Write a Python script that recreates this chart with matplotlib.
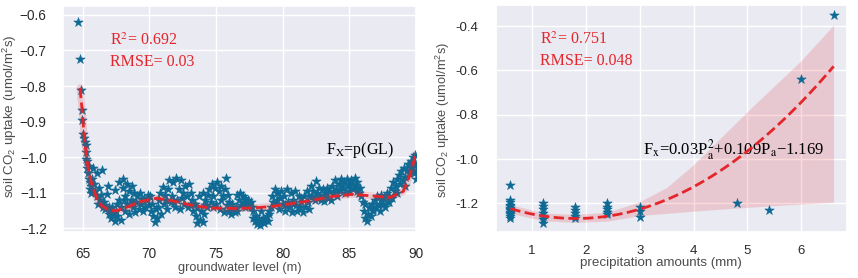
import matplotlib
matplotlib.use('Agg')
import matplotlib.pyplot as plt
import numpy as np
import seaborn as sns

# ---------------- data: left panel (groundwater level) ----------------
gl_level = [
    64.68, 64.80, 64.90, 64.93, 64.98, 65.05, 65.10, 65.15, 65.25, 65.22,
    65.25, 65.35, 65.30, 65.45, 65.40, 65.50, 65.55, 65.60, 65.52, 65.65,
    65.70, 65.80, 65.85, 65.95, 66.05, 66.10, 66.20, 66.30, 66.43, 66.15,
    66.35, 66.50, 66.60, 66.70, 66.80, 66.93, 66.95, 67.05, 67.10, 67.20,
    67.30, 67.43, 67.40, 67.50, 67.60, 67.70, 67.75, 67.85, 67.90, 68.00,
    68.05, 68.15, 68.20, 68.30, 68.35, 68.45, 68.50, 68.60, 68.70, 68.75,
    68.85, 68.90, 69.00, 69.10, 69.20, 69.30, 69.40, 69.50, 69.60, 69.70,
    69.80, 69.90, 70.00, 70.10, 70.20, 70.30, 70.40, 70.50, 70.60, 70.70,
    70.80, 70.90, 71.00, 71.10, 71.20, 71.30, 71.40, 71.50, 71.60, 71.70,
    71.80, 71.90, 72.00, 72.10, 72.20, 72.30, 72.40, 72.50, 72.60, 72.70,
    72.80, 72.90, 73.00, 73.10, 73.20, 73.30, 73.40, 73.50, 73.60, 73.70,
    73.80, 73.90, 74.00, 74.05, 74.10, 74.20, 74.30, 74.40, 74.50, 74.60,
    74.70, 74.80, 74.90, 75.00, 75.10, 75.20, 75.30, 75.40, 75.50, 75.60,
    75.70, 75.75, 75.80, 75.90, 76.00, 76.10, 76.20, 76.30, 76.40, 76.50,
    76.60, 76.70, 76.80, 76.90, 77.00, 77.10, 77.20, 77.30, 77.40, 77.50,
    77.60, 77.70, 77.80, 77.90, 78.00, 78.10, 78.20, 78.30, 78.40, 78.50,
    78.60, 78.70, 78.80, 78.90, 79.00, 79.10, 79.20, 79.30, 79.40, 79.50,
    79.60, 79.70, 79.80, 79.90, 80.00, 80.10, 80.20, 80.30, 80.40, 80.50,
    80.60, 80.70, 80.80, 80.90, 81.00, 81.10, 81.20, 81.30, 81.40, 81.50,
    81.60, 81.70, 81.80, 81.90, 82.00, 82.10, 82.20, 82.30, 82.40, 82.50,
    82.60, 82.70, 82.80, 82.90, 83.00, 83.10, 83.20, 83.30, 83.40, 83.50,
    83.60, 83.70, 83.80, 83.90, 84.00, 84.10, 84.20, 84.30, 84.40, 84.50,
    84.60, 84.70, 84.80, 84.90, 85.00, 85.10, 85.20, 85.30, 85.40, 85.50,
    85.60, 85.70, 85.80, 85.90, 86.00, 86.10, 86.20, 86.30, 86.40, 86.50,
    86.60, 86.70, 86.80, 86.90, 87.00, 87.10, 87.20, 87.30, 87.40, 87.50,
    87.60, 87.70, 87.80, 87.90, 88.00, 88.10, 88.20, 88.30, 88.40, 88.50,
    88.60, 88.70, 88.80, 88.90, 89.00, 89.10, 89.20, 89.30, 89.40, 89.50,
    89.60, 89.70, 89.80, 89.90, 90.00, 90.00, 89.95, 89.85, 89.75, 89.65,
    66.60, 67.00, 67.60, 68.10, 68.80, 69.45, 70.05, 70.65, 71.25, 71.85,
    72.45, 73.05, 73.55, 74.15, 74.75, 75.35, 75.95, 76.55, 77.15, 77.75,
    78.35, 78.95, 79.55, 80.15, 80.75, 81.35, 81.95, 82.55, 83.15, 83.75,
    84.35, 84.95, 85.55, 86.15, 86.75, 87.35, 87.95, 88.55, 89.15, 89.80,
]
gl_uptake = [
    -0.620, -0.725, -0.810, -0.868, -0.895, -0.935, -0.945, -0.958, -0.965, -0.985,
    -1.005, -1.010, -1.030, -1.025, -1.045, -1.060, -1.070, -1.080, -1.090, -1.100,
    -1.060, -1.030, -1.075, -1.095, -1.044, -1.110, -1.085, -1.120, -1.037, -1.130,
    -1.105, -1.140, -1.125, -1.145, -1.102, -1.080, -1.160, -1.150, -1.172, -1.140,
    -1.160, -1.093, -1.178, -1.150, -1.165, -1.120, -1.070, -1.140, -1.175, -1.085,
    -1.060, -1.110, -1.150, -1.075, -1.130, -1.095, -1.160, -1.120, -1.080, -1.140,
    -1.100, -1.155, -1.125, -1.110, -1.145, -1.100, -1.130, -1.150, -1.115, -1.140,
    -1.120, -1.105, -1.135, -1.150, -1.130, -1.165, -1.182, -1.145, -1.170, -1.120,
    -1.100, -1.160, -1.084, -1.130, -1.105, -1.145, -1.090, -1.065, -1.125, -1.110,
    -1.070, -1.140, -1.057, -1.120, -1.090, -1.145, -1.065, -1.100, -1.130, -1.080,
    -1.110, -1.140, -1.075, -1.100, -1.120, -1.150, -1.130, -1.165, -1.185, -1.110,
    -1.175, -1.150, -1.100, -1.182, -1.160, -1.120, -1.140, -1.105, -1.090, -1.125,
    -1.075, -1.110, -1.085, -1.130, -1.070, -1.095, -1.145, -1.080, -1.110, -1.155,
    -1.090, -1.057, -1.135, -1.105, -1.150, -1.160, -1.130, -1.145, -1.155, -1.140,
    -1.105, -1.120, -1.100, -1.135, -1.110, -1.125, -1.115, -1.137, -1.120, -1.130,
    -1.125, -1.140, -1.170, -1.180, -1.165, -1.188, -1.175, -1.190, -1.180, -1.170,
    -1.185, -1.175, -1.165, -1.180, -1.160, -1.140, -1.110, -1.125, -1.090, -1.130,
    -1.100, -1.145, -1.115, -1.095, -1.130, -1.110, -1.150, -1.090, -1.125, -1.140,
    -1.100, -1.155, -1.120, -1.095, -1.135, -1.150, -1.110, -1.140, -1.125, -1.155,
    -1.110, -1.140, -1.095, -1.125, -1.145, -1.080, -1.110, -1.095, -1.120, -1.068,
    -1.100, -1.085, -1.110, -1.120, -1.090, -1.124, -1.100, -1.085, -1.115, -1.095,
    -1.120, -1.080, -1.100, -1.065, -1.090, -1.110, -1.075, -1.095, -1.060, -1.085,
    -1.070, -1.100, -1.060, -1.080, -1.095, -1.065, -1.075, -1.090, -1.057, -1.080,
    -1.070, -1.100, -1.085, -1.110, -1.125, -1.150, -1.170, -1.178, -1.160, -1.140,
    -1.165, -1.130, -1.150, -1.120, -1.140, -1.110, -1.135, -1.150, -1.105, -1.130,
    -1.115, -1.140, -1.100, -1.125, -1.110, -1.085, -1.115, -1.070, -1.095, -1.080,
    -1.060, -1.050, -1.075, -1.040, -1.065, -1.030, -1.055, -1.035, -1.020, -1.045,
    -1.010, -1.030, -1.000, -1.020, -1.040, -1.060, -0.995, -1.045, -1.015, -1.025,
    -1.135, -1.140, -1.130, -1.120, -1.125, -1.118, -1.110, -1.140, -1.120, -1.125,
    -1.115, -1.135, -1.140, -1.135, -1.140, -1.120, -1.125, -1.150, -1.140, -1.150,
    -1.150, -1.150, -1.120, -1.135, -1.130, -1.115, -1.110, -1.115, -1.105, -1.100,
    -1.080, -1.075, -1.095, -1.130, -1.145, -1.120, -1.125, -1.100, -1.080, -1.040,
]
# fitted polynomial p(GL)
gl_fit_x = [64.80, 65.00, 65.10, 65.25, 65.43, 65.68, 66.05, 66.43, 67.05, 67.55,
            68.30, 69.30, 70.55, 71.80, 73.30, 74.80, 76.80, 78.30, 79.25, 81.76,
            83.77, 85.28, 86.80, 88.04, 89.05, 89.55, 90.00]
gl_fit_y = [-0.805, -0.882, -0.935, -0.987, -1.035, -1.075, -1.114, -1.136, -1.150, -1.150,
            -1.141, -1.125, -1.115, -1.123, -1.136, -1.143, -1.144, -1.141, -1.138, -1.124,
            -1.110, -1.104, -1.109, -1.113, -1.096, -1.050, -0.990]

# ---------------- data: right panel (precipitation) ----------------
pa_amount = [0.6] * 13 + [1.2] * 7 + [1.8] * 5 + [2.4] * 5 + [3.0] * 3 + [4.8, 5.4, 6.0, 6.6]
pa_uptake = [-1.117, -1.185, -1.195, -1.205, -1.210, -1.220, -1.225, -1.230, -1.240, -1.245, -1.250, -1.258, -1.265,
             -1.197, -1.212, -1.227, -1.242, -1.257, -1.272, -1.287,
             -1.215, -1.230, -1.245, -1.255, -1.265,
             -1.200, -1.215, -1.225, -1.240, -1.250,
             -1.215, -1.235, -1.260,
             -1.198, -1.228, -0.640, -0.350]
# quadratic fit coefficients of the dashed curve (a, b, c)
pa_fit_coef = [0.03, -0.109, -1.169]
# confidence band
band_x = [0.6, 1.2, 1.8, 2.4, 3.0, 3.5, 4.0, 4.5, 5.0, 5.5, 6.0, 6.6]
band_hi = [-1.205, -1.243, -1.250, -1.240, -1.192, -1.128, -1.025, -0.905, -0.785, -0.670, -0.555, -0.395]
band_lo = [-1.245, -1.278, -1.286, -1.280, -1.255, -1.245, -1.235, -1.226, -1.218, -1.210, -1.203, -1.195]

left_xticks = [65, 70, 75, 80, 85, 90]
left_yticks = [-1.2, -1.1, -1.0, -0.9, -0.8, -0.7, -0.6]
right_xticks = [1, 2, 3, 4, 5, 6]
right_yticks = [-1.2, -1.0, -0.8, -0.6, -0.4]

# ---------------- style ----------------
sns.set_theme(style='darkgrid')
plt.rcParams['font.family'] = ['Liberation Sans', 'DejaVu Sans']
plt.rcParams['mathtext.fontset'] = 'custom'
plt.rcParams['mathtext.rm'] = 'Liberation Sans'
plt.rcParams['mathtext.it'] = 'Liberation Sans:italic'
plt.rcParams['mathtext.bf'] = 'Liberation Sans:bold'

STAR = '#0e6a94'
RED = '#e3262b'
TICK = '#2b2b2b'
LAB = '#4d4d4d'

fig = plt.figure(figsize=(8.58, 2.78), dpi=100)
W, H = 858, 278
ax1 = fig.add_axes([63.3 / W, 46 / H, (416 - 63.3) / W, 226 / H])
ax2 = fig.add_axes([496.3 / W, 46 / H, 351 / W, 227 / H])

ylab = 'soil CO$_2$ uptake (umol/m$^2$s)'

# ----- left -----
ax1.scatter(gl_level, gl_uptake, marker='*', s=50, color=STAR, edgecolor=STAR,
            linewidth=0.4, zorder=3)
ax1.plot(gl_fit_x, gl_fit_y, color=RED, alpha=0.18, lw=5, solid_capstyle='round', zorder=4)
ax1.plot(gl_fit_x, gl_fit_y, color=RED, lw=2, ls='--', zorder=5)
ax1.set_xlim(63.55, 90.0)
ax1.set_ylim(-1.21, -0.575)
ax1.set_xticks(left_xticks)
ax1.set_yticks(left_yticks)
ax1.tick_params(axis='y', labelsize=9.8, colors=TICK, pad=6)
ax1.tick_params(axis='x', labelsize=9.8, colors=TICK, pad=4.5)
ax1.set_xlabel('groundwater level (m)', fontsize=9.2, color=LAB, va='center')
ax1.set_ylabel(ylab, fontsize=9.6, color=LAB, va='center')
ax1.xaxis.set_label_coords(0.501, -0.16)
ax1.yaxis.set_label_coords(-0.152, 0.513)
serif = dict(family=['Liberation Serif', 'DejaVu Serif'], math_fontfamily='stix', fontsize=11.5)
ax1.text(0.133, 0.846, 'R$^2$= 0.692', transform=ax1.transAxes, color=RED, va='center', **serif)
ax1.text(0.133, 0.754, 'RMSE= 0.03', transform=ax1.transAxes, color=RED, va='center', **serif)
ax1.text(0.745, 0.364, 'F$_\\mathrm{X}$=p(GL)', transform=ax1.transAxes, color='black', va='center', **serif)

# ----- right -----
xs = np.linspace(min(pa_amount), max(pa_amount), 100)
ax2.fill_between(band_x, band_lo, band_hi, color=RED, alpha=0.17, linewidth=0, zorder=2)
ax2.scatter(pa_amount, pa_uptake, marker='*', s=50, color=STAR, edgecolor=STAR,
            linewidth=0.4, zorder=3)
ax2.plot(xs, np.polyval(pa_fit_coef, xs), color=RED, lw=2, ls='--', zorder=5)
ax2.set_xlim(0.337, 6.854)
ax2.set_ylim(-1.329, -0.305)
ax2.set_xticks(right_xticks)
ax2.set_yticks(right_yticks, labels=[f'{v:.1f}' for v in right_yticks])
ax2.tick_params(axis='y', labelsize=9.5, colors=TICK, pad=7)
ax2.tick_params(axis='x', labelsize=9.5, colors=TICK, pad=3.5)
ax2.set_xlabel('precipitation amounts (mm)', fontsize=9.6, color=LAB, va='center')
ax2.set_ylabel(ylab, fontsize=9.2, color=LAB, va='center')
ax2.xaxis.set_label_coords(0.47, -0.136)
ax2.yaxis.set_label_coords(-0.152, 0.493)
ax2.text(0.125, 0.846, 'R$^2$= 0.751', transform=ax2.transAxes, color=RED, va='center', **serif)
ax2.text(0.125, 0.753, 'RMSE= 0.048', transform=ax2.transAxes, color=RED, va='center', **serif)
ax2.text(0.419, 0.361, 'F$_\\mathrm{x}$=0.03P$_\\mathrm{a}^2$+0.109P$_\\mathrm{a}$\u22121.169',
         transform=ax2.transAxes, color='black', va='center', fontsize=12,
         family=['Liberation Serif', 'DejaVu Serif'], math_fontfamily='stix')

fig.savefig('out.png', dpi=100)
